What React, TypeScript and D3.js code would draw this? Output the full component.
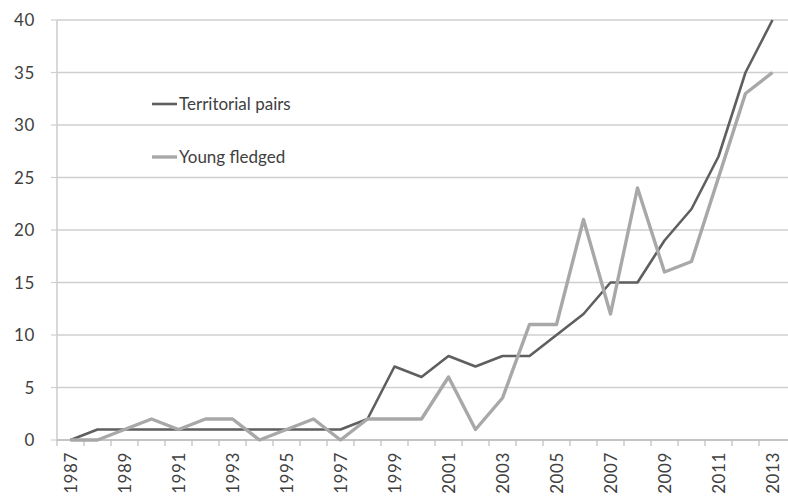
import React from "react";
import * as d3 from "d3";

const years: number[] = d3.range(1987, 2014);
const territorialPairs: number[] = [0, 1, 1, 1, 1, 1, 1, 1, 1, 1, 1, 2, 7, 6, 8, 7, 8, 8, 10, 12, 15, 15, 19, 22, 27, 35, 40];
const youngFledged: number[] = [0, 0, 1, 2, 1, 2, 2, 0, 1, 2, 0, 2, 2, 2, 6, 1, 4, 11, 11, 21, 12, 24, 16, 17, 25, 33, 35];
const yTicks: number[] = [0, 5, 10, 15, 20, 25, 30, 35, 40];
const seriesNames: string[] = ["Territorial pairs", "Young fledged"];

const W = 788, H = 502;
const margin = { top: 20, right: 2, bottom: 62, left: 57 };
const FONT = "Lato, 'Open Sans', sans-serif";

export default function App() {
    const x = d3.scaleBand<number>()
        .domain(years)
        .range([margin.left, W - margin.right]);
    const y = d3.scaleLinear()
        .domain([0, 40])
        .range([H - margin.bottom, margin.top]);

    const cx = (yr: number) => x(yr)! + x.bandwidth() / 2;
    const line = d3.line<number>()
        .x((_, i) => cx(years[i]!))
        .y(d => y(d));

    const series = [
        { name: seriesNames[0], values: territorialPairs, color: "#5f5f5f", width: 2.6 },
        { name: seriesNames[1], values: youngFledged, color: "#a8a8a8", width: 3.4 },
    ];
    const y0 = y(0);

    return <div style={{ position: "fixed", left: 0, top: 0, width: W, height: H, background: "#fff" }}>
        <svg width={W} height={H} style={{ display: "block" }} fontFamily={FONT}>
            {/* gridlines + y labels */}
            {yTicks.map(t => <g key={t}>
                <line x1={margin.left} x2={W} y1={y(t)} y2={y(t)} stroke="#cfcfcf" strokeWidth={1.6} />
                <line x1={margin.left - 6} x2={margin.left} y1={y(t)} y2={y(t)} stroke="#cfcfcf" strokeWidth={1.2} />
                <text x={35} y={y(t)} dy="0.36em" textAnchor="end" fontSize={17} letterSpacing={0.6} fill="#404040">{t}</text>
            </g>)}
            {/* axes */}
            <line x1={margin.left} x2={margin.left} y1={margin.top} y2={y0} stroke="#cfcfcf" strokeWidth={1.6} />
            <line x1={margin.left} x2={W} y1={y0} y2={y0} stroke="#bcbcbc" strokeWidth={1.4} />
            {years.map(yr => <line key={yr} x1={x(yr)} x2={x(yr)} y1={y0} y2={y0 + 6} stroke="#bcbcbc" strokeWidth={1.2} />)}
            {years.filter((_, i) => i % 2 === 0).map(yr =>
                <text key={yr} transform={`translate(${cx(yr)},${y0 + 12}) rotate(-90)`} dy="0.36em" textAnchor="end" fontSize={17} letterSpacing={0.6} fill="#404040">{yr}</text>
            )}
            {/* lines */}
            {series.map(s => <path key={s.name} d={line(s.values)!} fill="none" stroke={s.color} strokeWidth={s.width} strokeLinejoin="round" />)}
            {/* legend */}
            {series.map((s, i) => <g key={s.name} transform={`translate(152,${104 + i * 53})`}>
                <line x1={0} x2={25} y1={0} y2={0} stroke={s.color} strokeWidth={s.width} />
                <text x={27} y={0} dy="0.36em" fontSize={17} fill="#404040">{s.name}</text>
            </g>)}
        </svg>
    </div>;
}
